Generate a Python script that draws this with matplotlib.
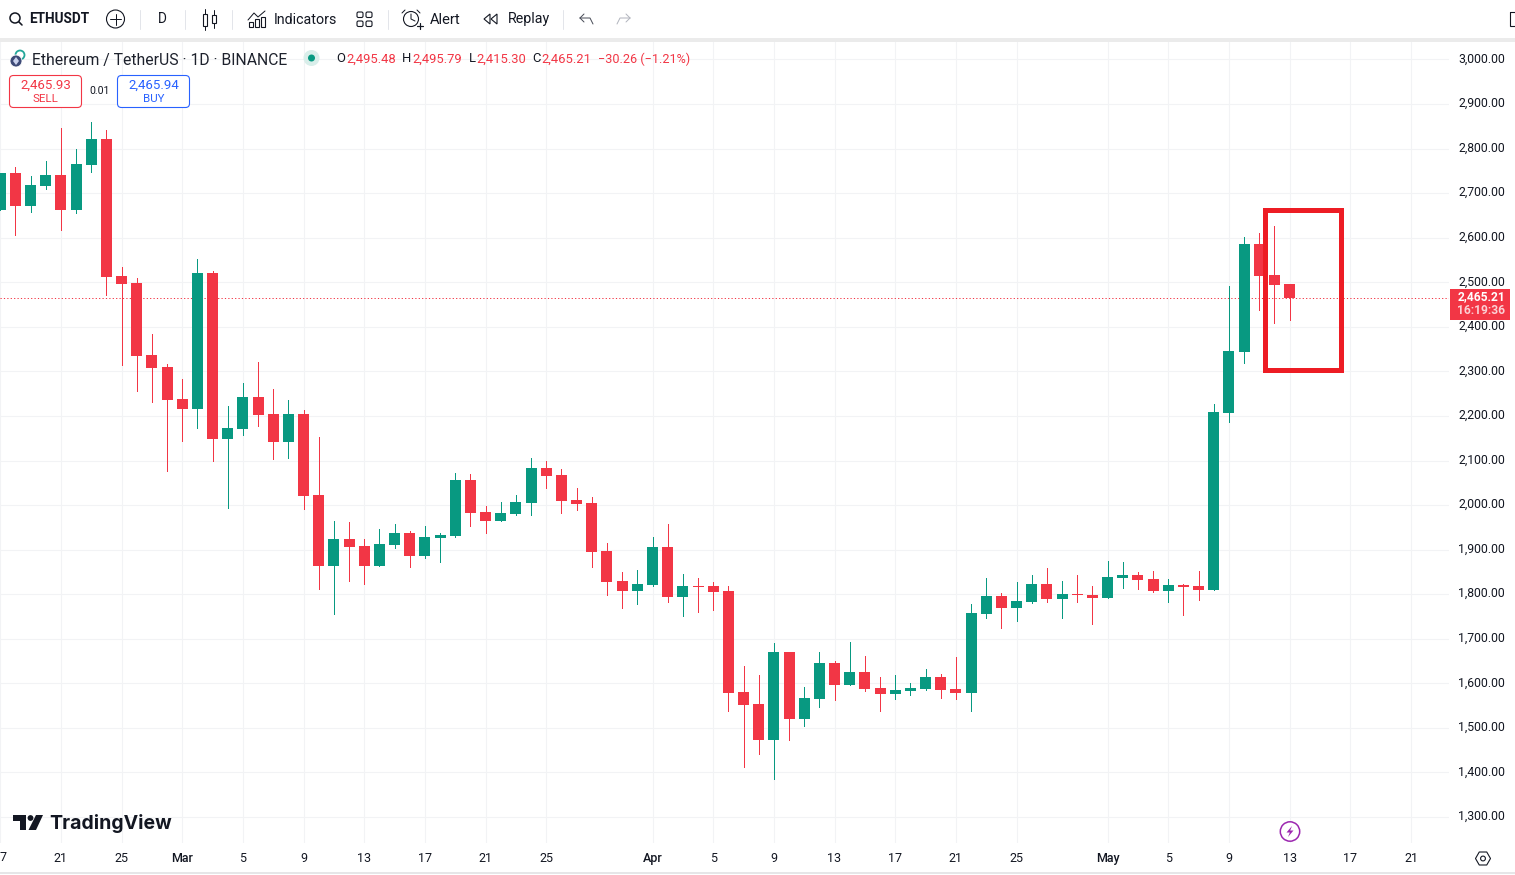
import numpy as np
import pandas as pd
import matplotlib
matplotlib.use("Agg")
import matplotlib.pyplot as plt
from matplotlib.patches import Rectangle, FancyBboxPatch, Circle, Polygon, RegularPolygon
from matplotlib.transforms import ScaledTranslation

plt.rcParams['font.family'] = ['Roboto', 'DejaVu Sans']

start_date = "2025-02-17"
opens = [2662,2745,2671,2716,2741,2662,2763,2822,2514,2498,2337,2310,
         2238,2216,2521,2148,2171,2243,2204,2142,2204,2023,1863,1924,1908,1863,1910,1937,1886,1926,1931,2056,1984,1964,1980,2005,2083,2068,2011,2005,1897,1830,1807,
         1821,1906,1794,1818,1818,1807,1581,1554,1473,1670,1520,1565,1646,1596,1625,1590,1576,1583,1587,1614,1587,1578,1756,1796,1769,1782,1823,1789,1800,1798,
         1791,1836,1843,1834,1807,1821,1818,1809,2207,2344,2586,2516,2495.48]
highs = [2745,2759,2739,2772,2846,2799,2860,2842,2534,2510,2384,2317,
         2283,2552,2525,2222,2274,2321,2261,2236,2213,2153,1964,1962,1924,1946,1958,1942,1953,1937,2072,2070,1998,2007,2023,2106,2099,2081,2038,2018,1915,1850,1854,
         1928,1958,1845,1836,1827,1818,1639,1619,1690,1670,1592,1670,1650,1693,1661,1614,1619,1601,1632,1621,1659,1778,1836,1803,1827,1843,1859,1830,1843,1818,
         1875,1872,1850,1852,1834,1823,1852,2227,2492,2602,2611,2626,2495.79]
lows = [2662,2606,2658,2709,2617,2655,2748,2471,2314,2256,2231,2076,
        2144,2173,2099,1993,2157,2177,2103,2106,1991,1812,1756,1830,1823,1863,1904,1861,1881,1872,1928,1953,1937,1964,1978,1978,2038,1982,1989,1861,1798,1769,1778,
        1818,1782,1751,1760,1765,1538,1412,1441,1385,1473,1504,1547,1563,1596,1583,1538,1565,1574,1585,1567,1565,1538,1747,1724,1740,1780,1782,1747,1782,1733,
        1791,1814,1812,1805,1782,1753,1787,1809,2186,2319,2438,2409,2415.30]
closes = [2745,2671,2718,2741,2662,2765,2822,2512,2496,2335,2308,2236,
          2216,2521,2148,2173,2243,2202,2142,2204,2020,1863,1924,1906,1863,1913,1937,1886,1928,1933,2056,1982,1964,1982,2007,2083,2065,2009,2002,1895,1827,1807,1823,
          1906,1794,1818,1816,1805,1578,1551,1473,1670,1520,1567,1646,1596,1625,1587,1576,1585,1590,1614,1585,1578,1758,1796,1769,1785,1823,1789,1800,1798,1791,
          1839,1843,1832,1807,1821,1816,1809,2209,2346,2586,2514,2494,2465.21]
price_ticks = list(range(1300, 3001, 100))
price_labels = [f"{p:,.2f}" for p in price_ticks]
time_dates = ["2025-02-17","2025-02-21","2025-02-25","2025-03-01","2025-03-05","2025-03-09","2025-03-13",
              "2025-03-17","2025-03-21","2025-03-25","2025-04-01","2025-04-05","2025-04-09","2025-04-13",
              "2025-04-17","2025-04-21","2025-04-25","2025-05-01","2025-05-05","2025-05-09","2025-05-13",
              "2025-05-17","2025-05-21"]
time_labels = ["","21","25","Mar","5","9","13","17","21","25","Apr","5","9","13","17","21","25","May","5","9","13","17","21"]
last_price = closes[-1]

W, H = 1515, 875
fig = plt.figure(figsize=(W/100, H/100), dpi=100, facecolor="white")
TXT = "#131722"; GRID = "#f2f3f5"; UP = "#089981"; DOWN = "#f23645"

# chart pane
L, R, T, B = 0, 1449, 42, 843
ax = fig.add_axes([L/W, 1-B/H, (R-L)/W, (B-T)/H])
step = 15.17
ax.set_xlim((L-0.2)/step, (R-0.2)/step)
ax.set_ylim(1300-(B-817)*2.2442, 1300+(817-T)*2.2442)
for s in ax.spines.values():
    s.set_visible(False)

o, h, l, c = map(np.array, (opens, highs, lows, closes))
x = np.arange(len(o))
colors = np.where(c >= o, UP, DOWN)
ax.vlines(x, l, h, colors=colors, lw=0.72, zorder=3, antialiased=False)
ax.bar(x, np.abs(c-o), bottom=np.minimum(o, c), width=11/step, color=colors, linewidth=0, zorder=4, antialiased=False)
ax.axhline(last_price, color=DOWN, lw=0.72, ls=(0, (1.2, 2.2)), zorder=2, snap=True, dash_capstyle="butt")

base = pd.Timestamp(start_date)
ax.set_xticks([(pd.Timestamp(d)-base).days for d in time_dates])
ax.set_xticklabels(time_labels, fontsize=9, color=TXT)
for lab, txt in zip(ax.get_xticklabels(), time_labels):
    if txt in ("Mar", "Apr", "May"):
        lab.set_fontweight("medium")
ax.set_yticks(price_ticks)
ax.set_yticklabels(price_labels, fontsize=8.8, color=TXT)
ax.yaxis.tick_right()
ax.tick_params(axis="both", length=0)
ax.tick_params(axis="x", pad=6.5)
ax.tick_params(axis="y", pad=6.5)
lift = ScaledTranslation(0, 2/100, fig.dpi_scale_trans)
for lab in ax.get_yticklabels():
    lab.set_transform(lab.get_transform() + lift)
ax.grid(True, color=GRID, lw=0.8, zorder=0)
ax.set_axisbelow(True)

# overlay in pixel coordinates for the interface furniture
ov = fig.add_axes([0, 0, 1, 1], facecolor="none")
ov.set_xlim(0, W); ov.set_ylim(H, 0); ov.axis("off")

def text(px, py, s, size=12, color=TXT, ha="left", weight="normal", **kw):
    ov.text(px, py, s, fontsize=size*0.72, color=color, ha=ha, va="center", fontweight=weight, **kw)

def line(xs, ys, color=TXT, lw=1.0, **kw):
    ov.plot(xs, ys, color=color, lw=lw*0.72, solid_capstyle="round", **kw)

# the first date label is only partly inside the reference crop
text(3, 857.5, "7", 12.5, ha="center")

# top toolbar and borders
ov.add_patch(Rectangle((0, 38), W, 4, color="#ebebeb", lw=0))
ov.add_patch(Rectangle((0, 872), W, 1.5, color="#e6e6e8", lw=0))
for sx in (140, 185, 232, 388, 563):
    line([sx, sx], [10, 29], color="#e3e5ea")

ov.add_patch(Circle((15, 18), 5, fc="none", ec=TXT, lw=1.1))
line([18.7, 22], [21.7, 25], lw=1.6)
text(29, 19, "ETHUSDT", 13.5, weight="bold")
ov.add_patch(Circle((115.5, 19), 9, fc="none", ec=TXT, lw=0.8))
line([110, 121], [19, 19]); line([115.5, 115.5], [13.5, 24.5])
text(162, 19, "D", 13.5, ha="center")

# candle icon
ov.add_patch(Rectangle((203, 14), 4, 12, fc="none", ec=TXT, lw=0.8))
line([205, 205], [9, 14]); line([205, 205], [26, 30])
ov.add_patch(Rectangle((212, 15), 4, 8, fc="none", ec=TXT, lw=0.8))
line([214, 214], [10, 15]); line([214, 214], [23, 28])

# indicators icon
line([248, 254, 258, 265], [20, 13, 17, 11])
for bx, by in ((249, 22), (255, 19), (261, 17)):
    ov.add_patch(Rectangle((bx, by), 4, 27-by, fc="none", ec=TXT, lw=0.8))
text(274, 19.5, "Indicators", 14.2)

# layout icon
for qx in (357, 366):
    for qy in (12, 21):
        ov.add_patch(FancyBboxPatch((qx, qy), 6, 5.5, boxstyle="round,pad=0,rounding_size=1.5", fc="none", ec=TXT, lw=0.8))

# alert icon
ov.add_patch(Circle((411, 19), 7.5, fc="none", ec=TXT, lw=0.8))
line([411, 411, 415], [14, 19, 21])
line([402, 405], [13, 10]); line([417, 420], [10, 13])
line([417, 423], [26, 26], lw=1.2); line([420, 420], [23, 29], lw=1.2)
text(430, 19.5, "Alert", 14.8)

# replay icon
ov.add_patch(Polygon([[490, 14], [484, 19], [490, 24]], fill=False, ec=TXT, lw=0.8))
ov.add_patch(Polygon([[497, 14], [491, 19], [497, 24]], fill=False, ec=TXT, lw=0.8))
text(508, 19.5, "Replay", 14.3)

# undo / redo
line([580, 590, 593], [18, 18, 24], color="#4a4e59")
line([580, 584], [18, 14], color="#4a4e59"); line([580, 584], [18, 22], color="#4a4e59")
line([630, 620, 617], [18, 18, 24], color="#b2b5be")
line([630, 626], [18, 14], color="#b2b5be"); line([630, 626], [18, 22], color="#b2b5be")
ov.add_patch(Rectangle((1509.5, 12), 8, 14, fc="none", ec=TXT, lw=0.8))

# symbol legend
ov.add_patch(Circle((20, 55), 4.5, fc="none", ec="#22a699", lw=1.3))
ov.add_patch(Circle((16, 61), 6, fc="#3d4a77", ec="white", lw=0.6))
ov.add_patch(Polygon([[16, 57], [19, 61], [16, 65], [13, 61]], fc="#c9d1ec", lw=0))
text(32, 60, "Ethereum / TetherUS · 1D · BINANCE", 15.7, color="#1e222d")
ov.add_patch(Circle((311.5, 58), 8, fc="#d9eeea", lw=0))
ov.add_patch(Circle((311.5, 58), 3.5, fc=UP, lw=0))

for px, s, col, sz in ((336, "O", TXT, 13), (346, "2,495.48", DOWN, 13), (402, "H", TXT, 13), (412, "2,495.79", DOWN, 13),
                       (469, "L", TXT, 13), (476, "2,415.30", DOWN, 13), (532, "C", TXT, 13), (541, "2,465.21", DOWN, 13),
                       (598, "−30.26 (−1.21%)", DOWN, 12.6)):
    text(px, 59, s, sz, color=col)

# buy / sell
ov.add_patch(FancyBboxPatch((9.5, 75.5), 72, 32, boxstyle="round,pad=0,rounding_size=4", fc="white", ec=DOWN, lw=0.8))
ov.add_patch(FancyBboxPatch((117.5, 75.5), 72, 32, boxstyle="round,pad=0,rounding_size=4", fc="white", ec="#2962ff", lw=0.8))
text(45.5, 85, "2,465.93", 13.3, color=DOWN, ha="center")
text(45.5, 99.5, "SELL", 11.5, color=DOWN, ha="center")
text(153.5, 85, "2,465.94", 13.3, color="#2962ff", ha="center")
text(153.5, 99.5, "BUY", 11.5, color="#2962ff", ha="center")
text(99.5, 91.5, "0.01", 10.5, ha="center")

# highlighted box
ov.add_patch(Rectangle((1265.3, 210.3), 75.2, 159.4, fc="none", ec="#ed1c24", lw=5*0.72, joinstyle="miter"))

# last price tag
ov.add_patch(Rectangle((1450, 289), 60, 31, fc=DOWN, lw=0))
text(1505, 297, "2,465.21", 12, color="white", ha="right", weight="bold")
text(1505, 311, "16:19:36", 12, color="#fbd0d4", ha="right", weight="bold")

# logo
ov.add_patch(Polygon([[13, 815], [26, 815], [26, 830], [19.5, 830], [19.5, 820.5], [13, 820.5]], fc=TXT, lw=0))
ov.add_patch(Circle((30.5, 818), 2.9, fc=TXT, lw=0))
ov.add_patch(Polygon([[36, 815], [43, 815], [36, 830], [28.5, 830]], fc=TXT, lw=0))
text(49, 823.5, "TradingView", 19.5, weight="bold", family=["Inter", "DejaVu Sans"])

# lightning marker
ov.add_patch(Circle((1290, 831.5), 9.7, fc="white", ec="#9c27b0", lw=1.1))
ov.add_patch(Polygon([[1292, 826], [1286.5, 832.5], [1289.8, 832.5], [1288, 837], [1293.5, 830.5], [1290.2, 830.5]], fc="#9c27b0", lw=0))

# settings
ov.add_patch(RegularPolygon((1483, 858.5), 6, radius=7.5, orientation=np.pi/6, fc="none", ec=TXT, lw=0.8))
ov.add_patch(Circle((1483, 858.5), 2.4, fc="none", ec=TXT, lw=0.8))

fig.savefig("out.png", dpi=100, facecolor="white")
